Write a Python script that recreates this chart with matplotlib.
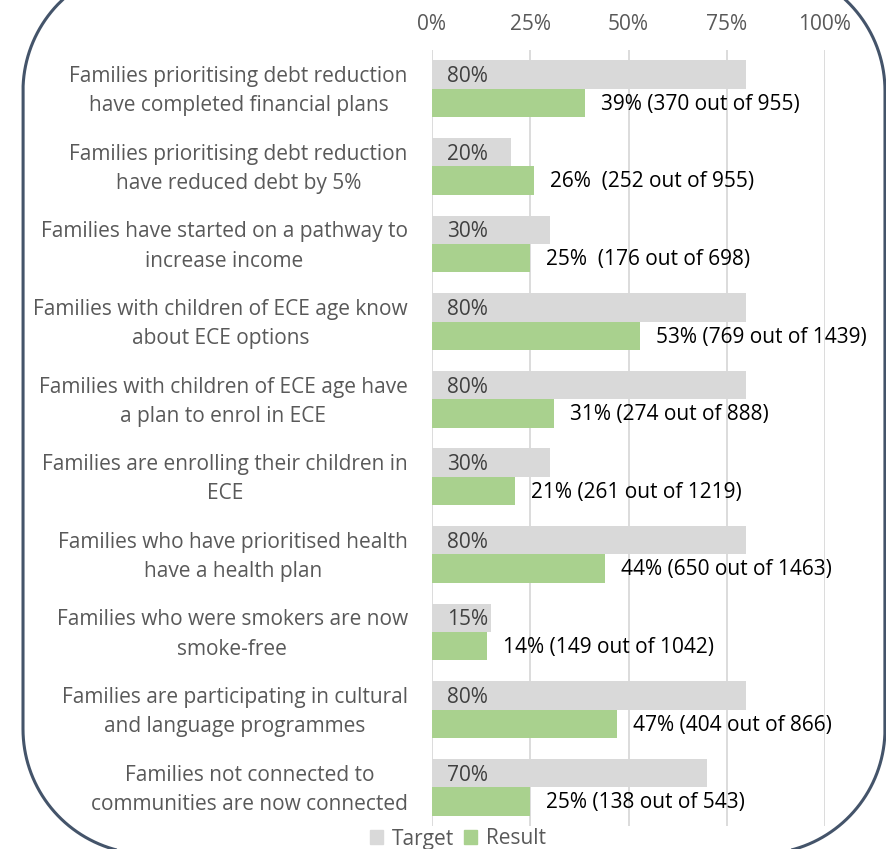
import matplotlib
matplotlib.use("Agg")
import matplotlib.pyplot as plt
from matplotlib.patches import PathPatch, Patch
from matplotlib.path import Path
import numpy as np

categories = [
    "Families prioritising debt reduction\nhave completed financial plans",
    "Families prioritising debt reduction\nhave reduced debt by 5%",
    "Families have started on a pathway to\nincrease income",
    "Families with children of ECE age know\nabout ECE options",
    "Families with children of ECE age have\na plan to enrol in ECE",
    "Families are enrolling their children in\nECE",
    "Families who have prioritised health\nhave a health plan",
    "Families who were smokers are now\nsmoke-free",
    "Families are participating in cultural\nand language programmes",
    "Families not connected to\ncommunities are now connected",
]
target = [80, 20, 30, 80, 80, 30, 80, 15, 80, 70]
result = [39, 26, 25, 53, 31, 21, 44, 14, 47, 25]
result_n = [370, 252, 176, 769, 274, 261, 650, 149, 404, 138]
result_total = [955, 955, 698, 1439, 888, 1219, 1463, 1042, 866, 543]
label_sep = [" ", "  ", "  ", " ", " ", " ", " ", " ", " ", " "]
xticks = [0, 25, 50, 75, 100]
xtick_labels = ["0%", "25%", "50%", "75%", "100%"]
series_names = ["Target", "Result"]

FONT = "Open Sans"
GRAY = "#D9D9D9"
GREEN = "#A9D18E"
TXT = "#595959"

plt.rcParams["font.family"] = [FONT, "DejaVu Sans"]

W, H = 887, 849
fig = plt.figure(figsize=(W / 100, H / 100), dpi=100)

# fit font size so that the first category line is ~341 px wide (as in the reference)
renderer = fig.canvas.get_renderer()
probe = fig.text(0, 0, "Families prioritising debt reduction", fontsize=10)
wpx = probe.get_window_extent(renderer).width
probe.remove()
FS = 10 * 341.0 / wpx


def rounded_rect(x0, y0, x1, y1, r, n=40):
    pts = []
    corners = [
        (x1 - r, y0 + r, -90, 0),    # top-right (y down)
        (x1 - r, y1 - r, 0, 90),     # bottom-right
        (x0 + r, y1 - r, 90, 180),   # bottom-left
        (x0 + r, y0 + r, 180, 270),  # top-left
    ]
    for cx, cy, a0, a1 in corners:
        a = np.radians(np.linspace(a0, a1, n))
        pts.extend(zip(cx + r * np.cos(a), cy + r * np.sin(a)))
    pts.append(pts[0])
    return Path(np.array(pts))


# rounded border (pixel coordinates, y downward)
bg = fig.add_axes([0, 0, 1, 1])
bg.set_xlim(0, W)
bg.set_ylim(H, 0)
bg.axis("off")
bg.add_patch(PathPatch(rounded_rect(23, -34, 885, 854, 125),
                       fill=False, ec="#44546A", lw=2.2))

ax = fig.add_axes([432 / W, 1 - 826 / H, (825 - 432) / W, (826 - 50) / H])
ax.patch.set_alpha(0)
n = len(categories)
y = np.arange(n)
bh = 0.365
ax.barh(y - bh / 2, target, height=bh, color=GRAY, zorder=2)
ax.barh(y + bh / 2, result, height=bh, color=GREEN, zorder=2)
ax.set_xlim(0, 100)
ax.set_ylim(n - 0.5, -0.5)

for i in range(n):
    ax.annotate(f"{target[i]}%", xy=(0, y[i] - bh / 2), xytext=(11, -1.5),
                textcoords="offset points", va="center", ha="left",
                fontsize=FS, color="#404040", zorder=3)
    ax.annotate(f"{result[i]}%{label_sep[i]}({result_n[i]} out of {result_total[i]})",
                xy=(result[i], y[i] + bh / 2), xytext=(11.5, -1),
                textcoords="offset points", va="center", ha="left",
                fontsize=FS, color="black", zorder=3)
    ax.annotate(categories[i], xy=(0, y[i]), xycoords=("axes fraction", "data"),
                xytext=(-17.5, -1.8), textcoords="offset points",
                ha="right", va="center", multialignment="center",
                linespacing=1.52, fontsize=FS, color=TXT)

ax.xaxis.tick_top()
ax.set_xticks(xticks)
ax.set_xticklabels(xtick_labels, fontsize=FS, color=TXT)
ax.tick_params(axis="x", length=0, pad=11)
ax.set_yticks([])
ax.grid(axis="x", color=GRAY, lw=1.3, zorder=0)
ax.grid(axis="y", visible=False)
for s in ax.spines.values():
    s.set_visible(False)

handles = [Patch(color=GRAY), Patch(color=GREEN)]
fig.legend(handles, series_names, loc="center", bbox_to_anchor=(458 / W, 1 - 839 / H),
           ncol=2, frameon=False, fontsize=FS, labelcolor=TXT,
           handlelength=0.62, handleheight=0.62, handletextpad=0.45,
           columnspacing=0.45, borderaxespad=0)

fig.savefig("out.png", dpi=100)
